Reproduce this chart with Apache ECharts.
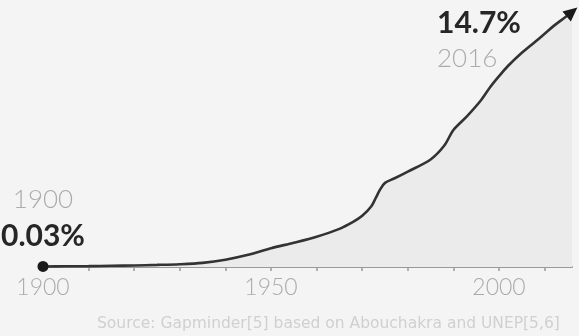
<!DOCTYPE html>
<html>
<head>
<meta charset="utf-8">
<script src="https://cdn.jsdelivr.net/npm/echarts@6/dist/echarts.min.js"></script>
<style>
  html, body { margin: 0; padding: 0; background: #f4f4f4; }
  #chart { width: 579px; height: 336px; }
</style>
</head>
<body>
<div id="chart"></div>
<script>
// Share of land area under protection, % (year, value)
const years = [1900, 1905, 1910, 1915, 1920, 1925, 1930, 1935, 1940, 1945,
  1950, 1955, 1960, 1965, 1968, 1970, 1972, 1973, 1974, 1975,
  1977, 1980, 1985, 1988, 1990, 1993, 1996, 1998, 2000, 2002,
  2005, 2008, 2010, 2012, 2014, 2016];
const shares = [0.03, 0.04, 0.05, 0.07, 0.09, 0.12, 0.16, 0.24, 0.42, 0.7,
  1.08, 1.4, 1.75, 2.2, 2.6, 2.95, 3.5, 4.0, 4.5, 4.85,
  5.1, 5.5, 6.2, 7.0, 7.9, 8.7, 9.6, 10.35, 11.0, 11.6,
  12.35, 13.0, 13.45, 13.9, 14.3, 14.7];
const axisYears = [1900, 1950, 2000];
const sourceNote = 'Source: Gapminder[5] based on Abouchakra and UNEP[5,6]';

const FONT = 'Lato, "Open Sans", sans-serif';
const last = years.length - 1;

const richStyles = {
  yr: { fontFamily: FONT, fontSize: 26, fontWeight: 300, color: '#ababab', lineHeight: 36 },
  val: { fontFamily: FONT, fontSize: 30, fontWeight: 'bold', color: '#262626', lineHeight: 36 }
};

const points = years.map((y, i) => {
  const p = { value: [y, shares[i]] };
  if (i === 0) {
    p.symbol = 'circle';
    p.symbolSize = 11;
    p.label = {
      show: true,
      position: 'top',
      distance: 7,
      align: 'center',
      formatter: () => '{yr|' + years[0] + '}\n{val|' + shares[0] + '%}',
      rich: richStyles
    };
  } else if (i === last) {
    p.symbol = 'triangle';
    p.symbolSize = [13, 14];
    p.symbolRotate = -50;
    p.label = {
      show: true,
      position: 'inside',
      align: 'left',
      verticalAlign: 'top',
      offset: [-135, -7],
      formatter: () => '{val|' + shares[last] + '%}\n{yr|' + years[last] + '}',
      rich: richStyles
    };
  } else {
    p.symbol = 'none';
  }
  return p;
});

const chart = echarts.init(document.getElementById('chart'));
chart.setOption({
  backgroundColor: '#f4f4f4',
  animation: false,
  grid: { left: 43, right: 7, top: 12, bottom: 69 },
  xAxis: {
    type: 'value',
    min: 1900,
    max: 2016,
    interval: 10,
    splitLine: { show: false },
    axisLine: { lineStyle: { color: '#999', width: 2 } },
    axisTick: { show: true, length: 4, lineStyle: { color: '#999', width: 1.5 } },
    axisLabel: {
      fontFamily: FONT,
      fontSize: 23,
      fontWeight: 300,
      color: '#ababab',
      margin: 9,
      showMaxLabel: false,
      formatter: v => (axisYears.includes(v) ? String(v) : '')
    }
  },
  yAxis: { type: 'value', min: 0, max: 14.7, show: false },
  title: {
    text: sourceNote,
    left: 92,
    top: 311,
    textStyle: { fontFamily: '"DejaVu Sans", sans-serif', fontSize: 15.5, fontWeight: 'normal', color: '#d0d0d0' }
  },
  series: [{
    type: 'line',
    smooth: 0.3,
    data: points,
    showSymbol: true,
    lineStyle: { color: '#333', width: 2.6 },
    itemStyle: { color: '#1a1a1a' },
    areaStyle: { color: '#ebebeb', opacity: 1 },
    z: 3
  }]
});
</script>
</body>
</html>
